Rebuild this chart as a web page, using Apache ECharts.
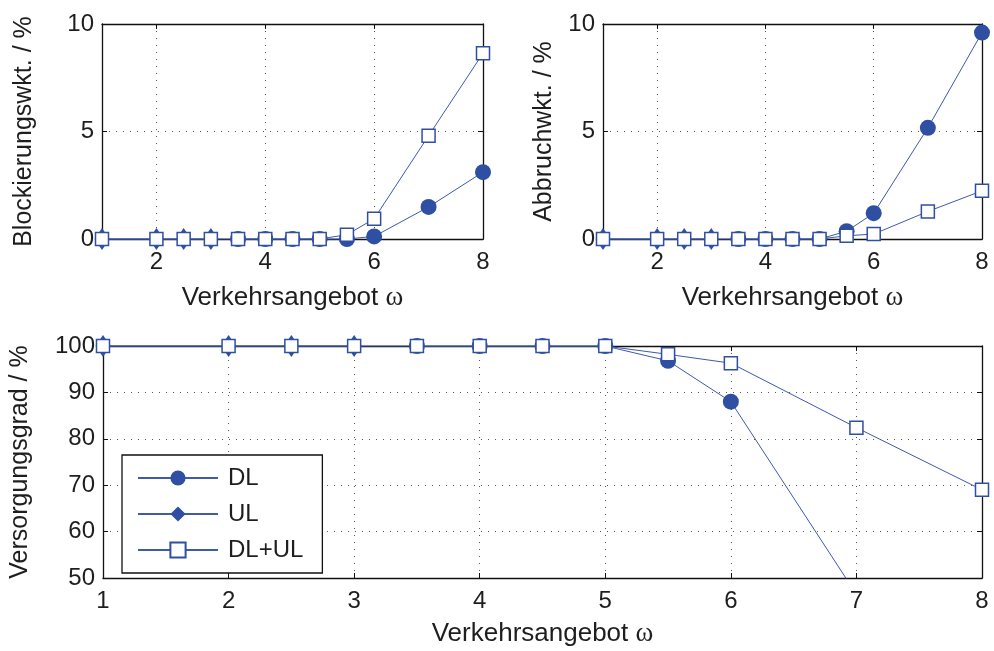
<!DOCTYPE html>
<html>
<head>
<meta charset="utf-8">
<script src="https://cdn.jsdelivr.net/npm/echarts@6/dist/echarts.min.js"></script>
<style>
html,body{margin:0;padding:0;background:#fff;}
#c{width:994px;height:651px;}
</style>
</head>
<body>
<div id="c"></div>
<script>
// ---- data ----
const xAll = [1, 2, 2.5, 3, 3.5, 4, 4.5, 5, 5.5, 6, 7, 8];
const xDL = [3.5, 4, 4.5, 5, 5.5, 6, 7, 8];
const xUL = [1, 2, 2.5, 3];

const blockDL = [0, 0, 0, 0, 0, 0.12, 1.49, 3.11];
const blockUL = [0, 0, 0, 0];
const blockDLUL = [0, 0, 0, 0, 0, 0, 0, 0, 0.2, 0.94, 4.8, 8.64];

const abbrDL = [0, 0, 0, 0, 0.36, 1.2, 5.17, 9.6];
const abbrUL = [0, 0, 0, 0];
const abbrDLUL = [0, 0, 0, 0, 0, 0, 0, 0, 0.15, 0.23, 1.28, 2.24];

const versDL = [100, 100, 100, 100, 96.8, 88.0, 46.5];
const versUL = [100, 100, 100, 100];
const versDLUL = [100, 100, 100, 100, 100, 100, 100, 100, 98.2, 96.3, 82.4, 69.0];

const topXTicks = [2, 4, 6, 8];
const seriesNames = ['DL', 'UL', 'DL+UL'];
const xName = 'Verkehrsangebot {w|ω}';
const yNames = ['Blockierungswkt. / %', 'Abbruchwkt. / %', 'Versorgungsgrad / %'];

// ---- helpers ----
const BLUE = '#2f4fa2';
const LINEBLUE = '#3d5aab';
const FONT = "'Liberation Sans', Arial, Helvetica, sans-serif";
const TXT = '#1e1e1e';
const zip = (xs, ys) => ys.map((y, i) => [xs[i], y]);

const gridLine = {show: true, lineStyle: {color: '#555', type: [1, 6], width: 1}};
const axisLine = {show: true, onZero: false, lineStyle: {color: '#111', width: 1.3}};
const tick = {show: true, inside: true, length: 5, lineStyle: {color: '#111'}};
const lbl = {color: TXT, fontSize: 24, fontFamily: FONT};
const xNameStyle = {color: TXT, fontSize: 26, fontFamily: FONT,
  rich: {w: {fontFamily: "'Liberation Serif', 'Times New Roman', serif", fontSize: 27, color: TXT}}};
const yNameStyle = {color: TXT, fontSize: 25, fontFamily: FONT};

function xAxes(gi, min, max, custom, interval, gap) {
  const main = {
    type: 'value', gridIndex: gi, min: min, max: max,
    name: xName, nameLocation: 'middle', nameGap: gap, nameTextStyle: xNameStyle,
    axisLine: axisLine, splitLine: gridLine,
    axisTick: Object.assign({}, tick), axisLabel: Object.assign({margin: 11}, lbl)
  };
  if (custom) {
    main.axisTick.customValues = custom;
    main.axisLabel.customValues = custom;
  } else {
    main.interval = interval;
  }
  const mirror = {
    type: 'value', gridIndex: gi, min: min, max: max, position: 'top',
    axisLine: axisLine, splitLine: {show: false}, axisLabel: {show: false},
    axisTick: Object.assign({}, tick)
  };
  if (custom) mirror.axisTick.customValues = custom; else mirror.interval = interval;
  return [main, mirror];
}
function yAxes(gi, min, max, interval, name, gap) {
  return [{
    type: 'value', gridIndex: gi, min: min, max: max, interval: interval,
    name: name, nameLocation: 'middle', nameGap: gap, nameTextStyle: yNameStyle,
    axisLine: axisLine, splitLine: gridLine, axisTick: tick,
    axisLabel: Object.assign({margin: 8}, lbl)
  }, {
    type: 'value', gridIndex: gi, min: min, max: max, interval: interval, position: 'right',
    axisLine: axisLine, splitLine: {show: false}, axisTick: tick, axisLabel: {show: false}
  }];
}

function triple(gi, dl, ul, both, dlX, clipDL) {
  const ax = gi * 2;
  return [{
    name: 'DL', type: 'line', xAxisIndex: ax, yAxisIndex: ax, data: zip(dlX, dl),
    symbol: 'circle', symbolSize: 16, clip: clipDL, z: 2,
    lineStyle: {color: LINEBLUE, width: 1}, itemStyle: {color: BLUE}
  }, {
    name: 'UL', type: 'line', xAxisIndex: ax, yAxisIndex: ax, data: zip(xUL, ul),
    symbol: 'diamond', symbolSize: [15, 22], clip: false, z: 3,
    lineStyle: {color: LINEBLUE, width: 1}, itemStyle: {color: BLUE}
  }, {
    name: 'DL+UL', type: 'line', xAxisIndex: ax, yAxisIndex: ax, data: zip(xAll, both),
    symbol: 'rect', symbolSize: 13, clip: false, z: 4,
    lineStyle: {color: LINEBLUE, width: 1},
    itemStyle: {color: '#fff', borderColor: BLUE, borderWidth: 1.5}
  }];
}

const chart = echarts.init(document.getElementById('c'), null, {renderer: 'canvas'});
chart.setOption({
  animation: false,
  backgroundColor: '#fff',
  textStyle: {fontFamily: FONT},
  grid: [
    {left: 102, top: 24, width: 381, height: 215},
    {left: 603, top: 24, width: 379, height: 215},
    {left: 102, top: 346, width: 880, height: 232}
  ],
  xAxis: [].concat(
    xAxes(0, 1, 8, topXTicks, null, 45),
    xAxes(1, 1, 8, topXTicks, null, 45),
    xAxes(2, 1, 8, null, 1, 42)
  ),
  yAxis: [].concat(
    yAxes(0, 0, 10, 5, yNames[0], 65),
    yAxes(1, 0, 10, 5, yNames[1], 46),
    yAxes(2, 50, 100, 10, yNames[2], 70)
  ),
  legend: {
    data: seriesNames, orient: 'vertical', left: 122, top: 455,
    backgroundColor: '#fff', borderColor: '#111', borderWidth: 1.3,
    padding: [11, 19, 11, 15], itemGap: 12, itemWidth: 80, itemHeight: 19,
    selectedMode: false,
    textStyle: {color: TXT, fontSize: 24, fontFamily: FONT, padding: [0, 0, 0, 5]}
  },
  series: [].concat(
    triple(0, blockDL, blockUL, blockDLUL, xDL, false),
    triple(1, abbrDL, abbrUL, abbrDLUL, xDL, false),
    triple(2, versDL, versUL, versDLUL, xDL, true)
  )
});
</script>
</body>
</html>
